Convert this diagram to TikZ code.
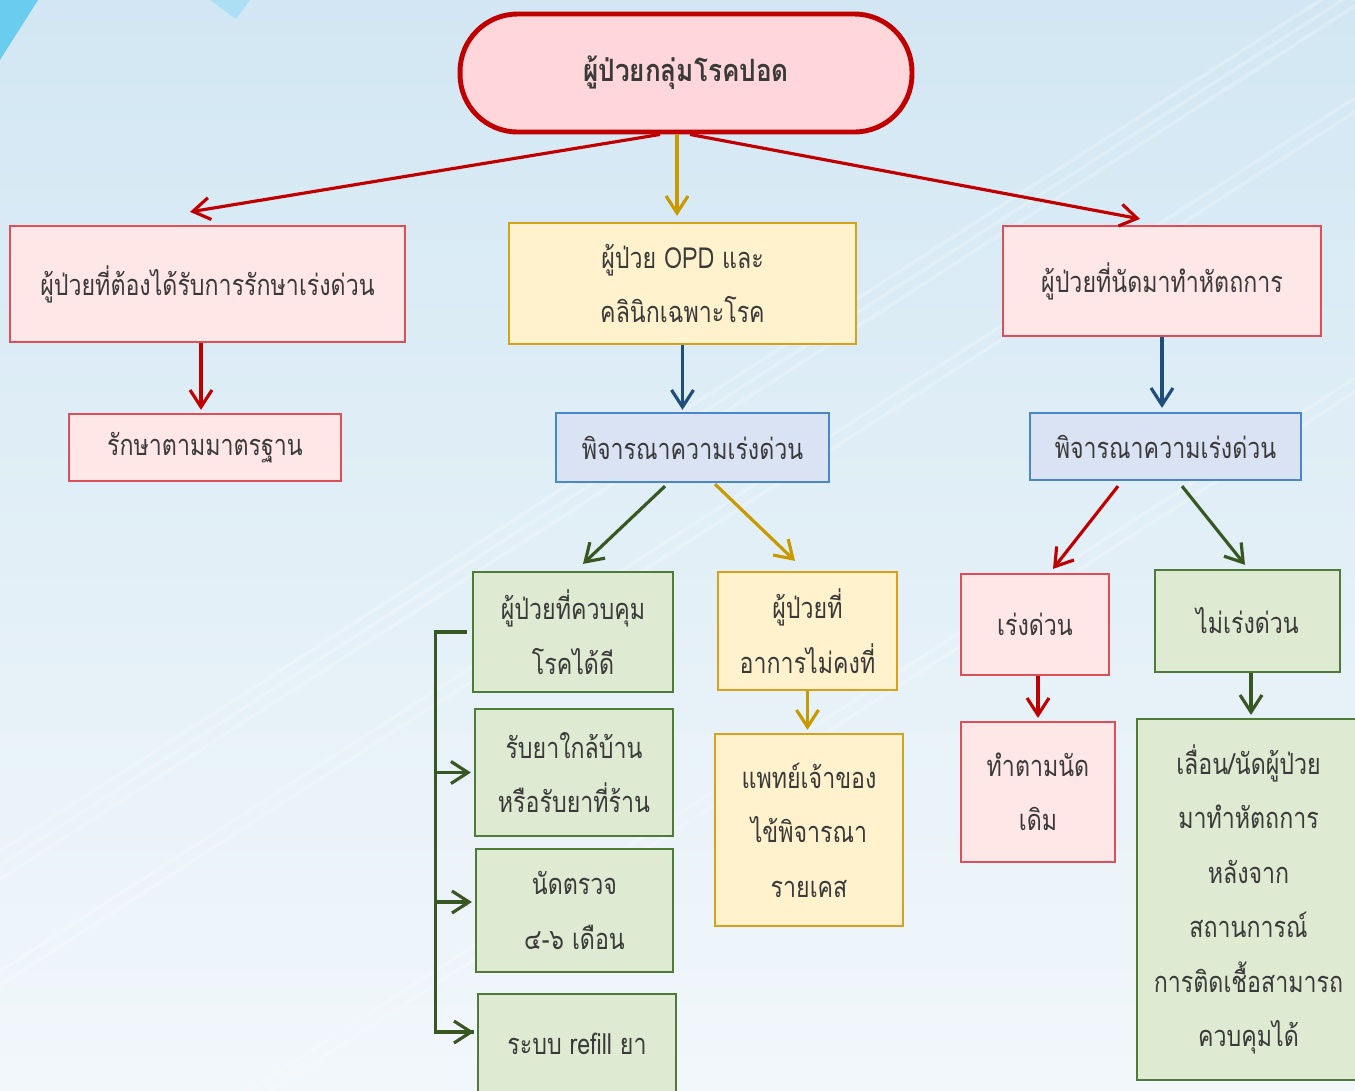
\documentclass[tikz,border=0pt]{standalone}
\usepackage{fontspec}
\setmainfont[Script=Thai, FakeStretch=0.8]{Loma}
\newfontfamily\thaibold[Script=Thai, FakeStretch=0.85]{Loma Bold}
\usetikzlibrary{arrows.meta, positioning, calc}
\definecolor{bgtop}{HTML}{D2E7F3}
\definecolor{bgmid}{HTML}{DCECF6}
\definecolor{bgbot}{HTML}{F2F7FB}
\definecolor{skyblue}{HTML}{6ACDF0}
\definecolor{paleblue}{HTML}{ADDFF4}
\definecolor{dkred}{HTML}{C00000}
\definecolor{rosefill}{HTML}{FFD6D9}
\definecolor{pinkfill}{HTML}{FFE6E7}
\definecolor{pinkline}{HTML}{D9505A}
\definecolor{creamfill}{HTML}{FFF2CC}
\definecolor{goldline}{HTML}{D6A21C}
\definecolor{goldarr}{HTML}{C99A00}
\definecolor{bluefill}{HTML}{DAE3F3}
\definecolor{blueline}{HTML}{4A86C8}
\definecolor{navy}{HTML}{1F4E79}
\definecolor{sagefill}{HTML}{DEEBD2}
\definecolor{greenline}{HTML}{4E7A3A}
\definecolor{dkgreen}{HTML}{385723}
\definecolor{inktext}{HTML}{3A3A3A}

\begin{document}
\begin{tikzpicture}[
  x=0.02cm, y=-0.02cm,
  >={Straight Barb[length=3.4mm, width=4.4mm]},
  box/.style={draw=#1, line width=1.3pt, rectangle, inner sep=2pt,
    font=\fontsize{16.5}{31}\selectfont, text=inktext, align=center},
  pinkbox/.style={box=pinkline, fill=pinkfill},
  creambox/.style={box=goldline, fill=creamfill},
  bluebox/.style={box=blueline, fill=bluefill},
  sagebox/.style={box=greenline, fill=sagefill},
  arr/.style={->, line width=1.8pt, #1},
]

% Background
\clip (0,0) rectangle (1355,1090);
\shade[top color=bgtop, middle color=bgmid, bottom color=bgbot] (0,0) rectangle (1355,1090);
\foreach \s in {0,14,28,120,134,400,414}
  \draw[white, opacity=0.22, line width=2pt] (-200,980+\s) -- (1600,-180+\s);
\fill[skyblue] (0,0) -- (38,0) -- (0,60) -- cycle;
\fill[paleblue] (210,0) -- (250,0) -- (236,19) -- cycle;

% =============================================
% Top
% =============================================
\node[draw=dkred, line width=2.8pt, fill=rosefill, rounded corners=1.15cm,
  minimum width=9.04cm, minimum height=2.36cm, text=inktext,
  font=\fontsize{17.5}{20}\thaibold] (lung) at (686,73) {ผู้ป่วยกลุ่มโรคปอด};

% =============================================
% Second row
% =============================================
\node[pinkbox, minimum width=7.9cm, minimum height=2.32cm] (urgent) at (207.5,284)
  {ผู้ป่วยที่ต้องได้รับการรักษาเร่งด่วน};
\node[creambox, minimum width=6.94cm, minimum height=2.42cm] (opd) at (682.5,283.5)
  {ผู้ป่วย OPD และ\\คลินิกเฉพาะโรค};
\node[pinkbox, minimum width=6.36cm, minimum height=2.2cm] (proc) at (1162,281)
  {ผู้ป่วยที่นัดมาทำหัตถการ};

\draw[arr=dkred] ([xshift=-0.52cm]lung.south) -- ([xshift=-0.35cm, yshift=0.26cm]urgent.north);
\draw[arr=goldarr] ([xshift=-0.18cm]lung.south) -- ([xshift=-0.18cm, yshift=0.12cm]lung.south |- opd.north);
\draw[arr=dkred] ([xshift=0.08cm]lung.south) -- ([xshift=-0.44cm, yshift=0.12cm]proc.north);

% =============================================
% Third row
% =============================================
\node[pinkbox, minimum width=5.44cm, minimum height=1.34cm] (standard) at (205,447.5)
  {รักษาตามมาตรฐาน};
\node[bluebox, minimum width=5.46cm, minimum height=1.38cm] (consult) at (692.5,447.5)
  {พิจารณาความเร่งด่วน};
\node[bluebox, minimum width=5.42cm, minimum height=1.34cm] (consultb) at (1165.5,446.5)
  {พิจารณาความเร่งด่วน};

\draw[arr=dkred] ([xshift=-0.08cm]standard.north |- urgent.south) -- ([xshift=-0.08cm, yshift=0.06cm]standard.north);
\draw[arr=navy] (opd.south) -- ([yshift=0.04cm]opd.south |- consult.north);
\draw[arr=navy] (proc.south) -- ([yshift=0.08cm]proc.south |- consultb.north);

% =============================================
% OPD branch
% =============================================
\node[sagebox, minimum width=4.0cm, minimum height=2.4cm] (stable) at (573,632)
  {ผู้ป่วยที่ควบคุม\\โรคได้ดี};
\node[sagebox, minimum width=3.96cm, minimum height=2.54cm] (nearhome) at (574,772.5)
  {รับยาใกล้บ้าน\\หรือรับยาที่ร้าน};
\node[sagebox, minimum width=3.94cm, minimum height=2.46cm] (followup) at (574.5,910.5)
  {นัดตรวจ\\๔-๖ เดือน};
\node[sagebox, minimum width=3.96cm, minimum height=2.0cm] (refill) at (577,1044)
  {ระบบ refill ยา};
\node[creambox, minimum width=3.58cm, minimum height=2.36cm] (unstable) at (807.5,631)
  {ผู้ป่วยที่\\อาการไม่คงที่};
\node[creambox, minimum width=3.76cm, minimum height=3.84cm] (doctor) at (809,830)
  {แพทย์เจ้าของ\\ไข้พิจารณา\\รายเคส};

\draw[arr=dkgreen] ([xshift=-0.55cm, yshift=-0.06cm]consult.south) -- ([xshift=0.2cm, yshift=0.14cm]stable.north);
\draw[arr=goldarr] ([xshift=0.45cm, yshift=-0.02cm]consult.south) -- ([xshift=-0.25cm, yshift=0.2cm]unstable.north);
\draw[arr=goldarr] (unstable.south) -- ([yshift=0.06cm]unstable.south |- doctor.north);

% Bracket
\draw[line width=1.8pt, dkgreen] ([xshift=-0.1cm]stable.west) -- ++(-0.62cm,0) coordinate (trunk)
  |- ([xshift=-0.06cm]refill.west |- 0,1032);
\draw[arr=dkgreen] (trunk |- 0,1032) -- ([xshift=-0.06cm]refill.west |- 0,1032);
\draw[arr=dkgreen] (trunk |- nearhome.west) -- ([xshift=-0.06cm]nearhome.west);
\draw[arr=dkgreen] (trunk |- 0,902) -- ([xshift=-0.06cm]followup.west |- 0,902);

% =============================================
% Procedure branch
% =============================================
\node[pinkbox, minimum width=2.96cm, minimum height=2.02cm] (hurry) at (1035,624.5)
  {เร่งด่วน};
\node[pinkbox, minimum width=3.08cm, minimum height=2.8cm] (keep) at (1038,792)
  {ทำตามนัด\\เดิม};
\node[sagebox, minimum width=3.7cm, minimum height=2.04cm] (nohurry) at (1247.5,621)
  {ไม่เร่งด่วน};
\node[sagebox, minimum width=4.46cm, minimum height=7.22cm] (postpone) at (1248.5,899.5)
  {เลื่อน/นัดผู้ป่วย\\มาทำหัตถการ\\หลังจาก\\สถานการณ์\\การติดเชื้อสามารถ\\ควบคุมได้};

\draw[arr=dkred] ([xshift=-0.95cm, yshift=-0.1cm]consultb.south) -- ([xshift=0.36cm, yshift=0.08cm]hurry.north);
\draw[arr=dkgreen] ([xshift=0.33cm, yshift=-0.1cm]consultb.south) -- ([xshift=-0.05cm, yshift=0.08cm]nohurry.north);
\draw[arr=dkred] (keep.north |- hurry.south) -- ([yshift=0.06cm]keep.north);
\draw[arr=dkgreen] ([xshift=0.07cm]nohurry.south) -- ([xshift=0.07cm, yshift=0.06cm]nohurry.south |- postpone.north);

\end{tikzpicture}
\end{document}
